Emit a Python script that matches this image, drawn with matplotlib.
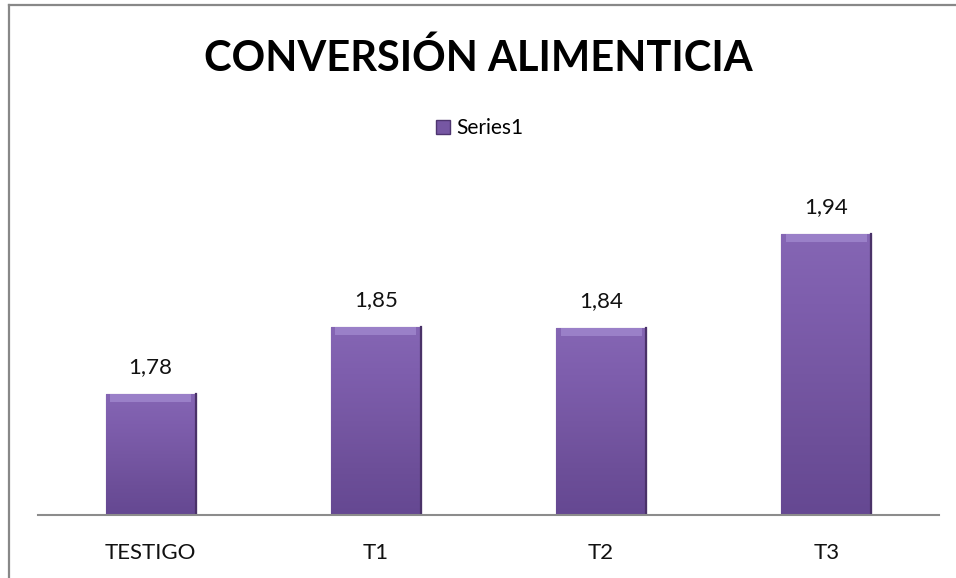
import numpy as np
import matplotlib.pyplot as plt
from matplotlib.colors import LinearSegmentedColormap
from matplotlib.lines import Line2D

# Datos del gráfico (valores estimados; etiquetas redondeadas como en el original)
categorias = ["TESTIGO", "T1", "T2", "T3"]
conversion = [1.780, 1.847, 1.846, 1.940]
etiquetas = ["1,78", "1,85", "1,84", "1,94"]

plt.rcParams["font.family"] = ["Lato", "DejaVu Sans"]

W, H = 956, 578
fig = plt.figure(figsize=(W / 100, H / 100), dpi=100)

# Area de trazado (en pixeles del lienzo)
x0, x1, y_base, y_top = 38, 939, 515, 160
ax = fig.add_axes([x0 / W, (H - y_base) / H, (x1 - x0) / W, (y_base - y_top) / H])

y_min = 1.659
y_max = y_min + (y_base - y_top) / 1000

x = np.arange(len(categorias))
bars = ax.bar(x, [v - y_min for v in conversion], bottom=y_min, width=0.4,
              color="#7657A3", edgecolor="#4E3570", linewidth=0.8, zorder=2)

# Degradado tipo bisel sobre cada barra
cmap = LinearSegmentedColormap.from_list(
    "morado", ["#8566B4", "#7E5EAD", "#7657A3", "#6D4F99", "#654892"])
grad = np.linspace(0, 1, 256).reshape(-1, 1)
for b in bars:
    bx, by = b.get_x(), b.get_y()
    bw, bh = b.get_width(), b.get_height()
    im = ax.imshow(grad, cmap=cmap, aspect="auto", origin="upper",
                   extent=(bx, bx + bw, by, by + bh), zorder=3)
    im.set_clip_path(b)
    # franja superior clara (bisel)
    ax.bar(bx + bw / 2, 0.008, bottom=by + bh - 0.008, width=bw * 0.9,
           color="#9A80C8", linewidth=0, zorder=4)
    ax.plot([bx + bw, bx + bw], [by, by + bh], color="#4A3268", lw=1.6, zorder=5)
ax.set_xlim(-0.5, len(categorias) - 0.5)
ax.set_ylim(y_min, y_max)

# Etiquetas de datos
for xi, v, t in zip(x, conversion, etiquetas):
    ax.annotate(t, (xi, v), xytext=(0, 12), textcoords="offset points",
                ha="center", va="bottom", fontsize=16, color="#111111")

ax.set_xticks(x)
ax.set_xticklabels(categorias, fontsize=16, color="#111111")
ax.tick_params(axis="x", length=0, pad=20)
ax.set_yticks([])
for s in ["top", "right", "left"]:
    ax.spines[s].set_visible(False)
ax.spines["bottom"].set_color("#8C8C8C")
ax.spines["bottom"].set_linewidth(1.5)
ax.spines["bottom"].set_zorder(6)

fig.text(0.5, 1 - 58 / H, "CONVERSIÓN ALIMENTICIA", ha="center", va="center",
         fontsize=30, fontweight="bold", color="#000000")

handle = Line2D([], [], marker="s", linestyle="none", markersize=10,
                markerfacecolor="#7657A3", markeredgecolor="#4E3570")
fig.legend([handle], ["Series1"], loc="center", bbox_to_anchor=(0.5, 1 - 128 / H),
           frameon=False, fontsize=15, handletextpad=0.1, handlelength=1.0)

# Marco del gráfico
fig.add_artist(Line2D([9 / W, 9 / W], [0, 1 - 5 / H], color="#888888", lw=1.6))
fig.add_artist(Line2D([9 / W, 1], [1 - 5 / H, 1 - 5 / H], color="#888888", lw=1.6))

fig.savefig("out.png", dpi=100)
